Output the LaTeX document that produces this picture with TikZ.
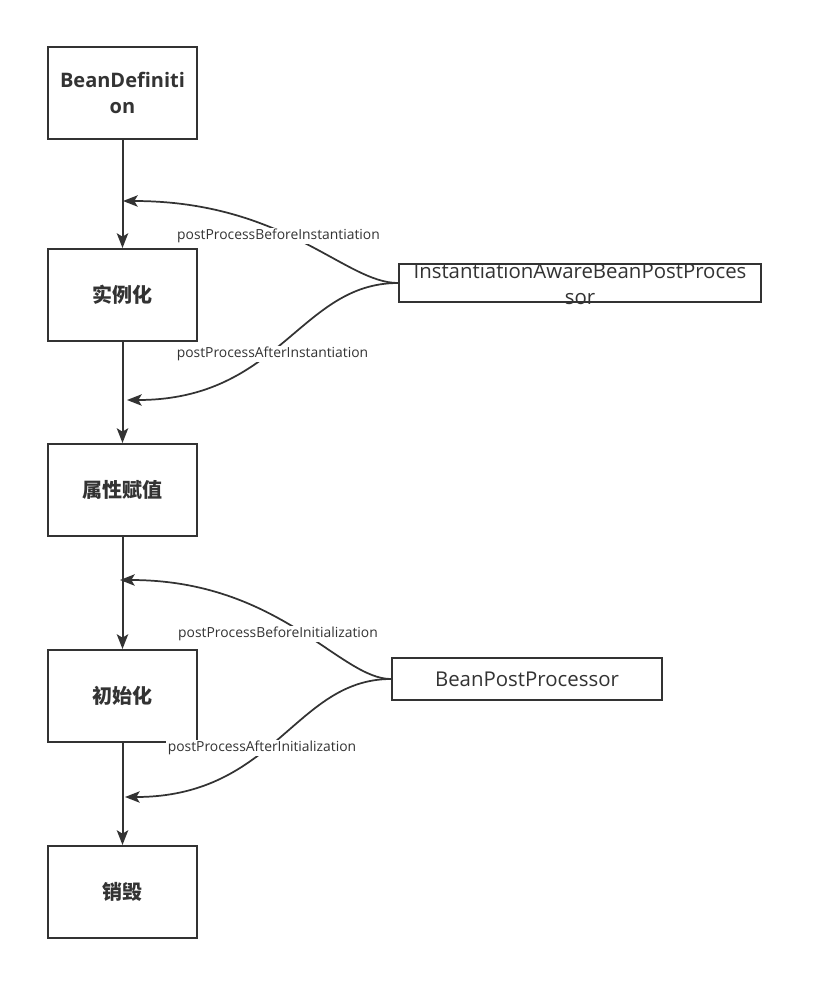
\documentclass[tikz,border=0pt]{standalone}
\usepackage{fontspec}
\setmainfont{Open Sans}
\newfontfamily\cjk{Noto Sans CJK SC}
\usetikzlibrary{arrows.meta}
\definecolor{ink}{HTML}{333333}
\begin{document}
\begin{tikzpicture}[x=0.75pt,y=-0.75pt,
  stage/.style={draw=ink, line width=1.5pt, minimum width=111.75pt, minimum height=69pt,
    inner sep=0pt, align=center, text=ink, font=\bfseries\fontsize{15}{19.5}\selectfont},
  procbox/.style={draw=ink, line width=1.5pt, inner sep=0pt},
  proctext/.style={align=center, text=ink, inner sep=0pt, font=\fontsize{15.3}{19}\selectfont},
  flow/.style={draw=ink, line width=1.5pt, -{Stealth[length=11pt,width=8.5pt,inset=2.5pt]}},
  hook/.style={draw=ink, line width=1.3pt, -{Stealth[length=11pt,width=8.5pt,inset=2.5pt]}},
  lbl/.style={fill=white, inner sep=1pt, text=ink, font=\fontsize{10.4}{12}\selectfont}]
\useasboundingbox (0,0) rectangle (823,1001);
\fill[white] (0,0) rectangle (823,1001);

\node[stage] (bd) at (122.5,93) {BeanDefiniti\\on};
\node[stage] (inst) at (122.5,295) {\cjk 实例化};
\node[stage] (prop) at (122.5,490) {\cjk 属性赋值};
\node[stage] (init) at (122.5,696) {\cjk 初始化};
\node[stage] (dest) at (122.5,892) {\cjk 销毁};

\node[procbox, minimum width=271.5pt, minimum height=28.5pt] (iabpp) at (580,283) {};
\node[proctext] (iabpptext) at (580,284) {InstantiationAwareBeanPostProces\\sor};
\node[procbox, minimum width=202.5pt, minimum height=31.5pt, text=ink, font=\fontsize{15.3}{19}\selectfont] (bpp) at (527,679) {BeanPostProcessor};

\draw[flow] (bd) -- (inst);
\draw[flow] (inst) -- (prop);
\draw[flow] (prop) -- (init);
\draw[flow] (init) -- (dest);

\coordinate (t1) at (123,201);
\coordinate (t2) at (127,400);
\coordinate (t3) at (120,580);
\coordinate (t4) at (125,797);

\draw[hook] (iabpp.west) .. controls (345,283) and (285,201) .. (t1);
\draw[hook] (iabpp.west) .. controls (300,283) and (280,400) .. (t2);
\draw[hook] (bpp.west) .. controls (340,679) and (280,580) .. (t3);
\draw[hook] (bpp.west) .. controls (295,679) and (275,797) .. (t4);

\node[lbl] (l1) at (278.5,236) {postProcessBeforeInstantiation};
\node[lbl] (l2) at (272.5,354) {postProcessAfterInstantiation};
\node[lbl] (l3) at (278,634) {postProcessBeforeInitialization};
\node[lbl] (l4) at (262,748) {postProcessAfterInitialization};
\end{tikzpicture}
\end{document}
